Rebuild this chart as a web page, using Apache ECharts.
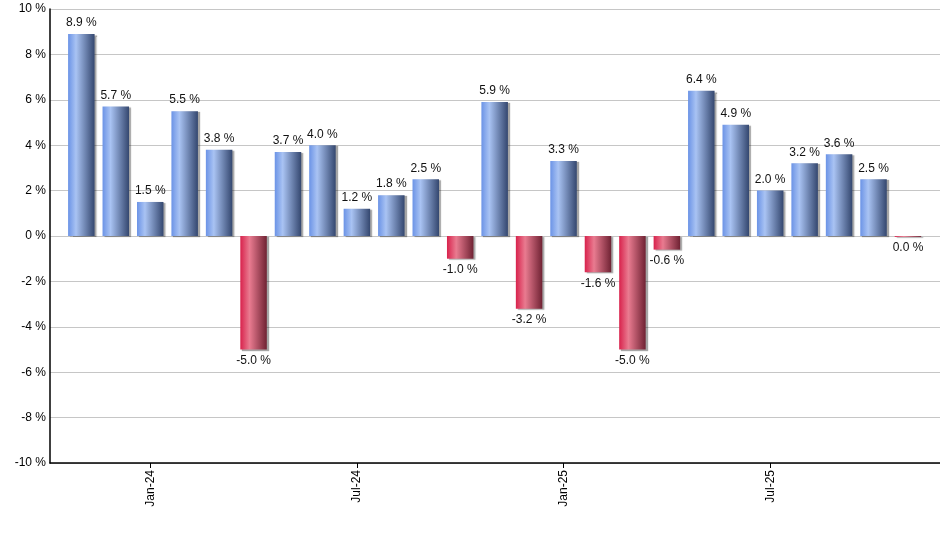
<!DOCTYPE html>
<html>
<head>
<meta charset="utf-8">
<script src="https://cdn.jsdelivr.net/npm/echarts@6/dist/echarts.min.js"></script>
<style>html,body{margin:0;padding:0;background:#fff}#c{width:940px;height:550px}</style>
</head>
<body>
<div id="c"></div>
<script>
var months = ['Nov-23','Dec-23','Jan-24','Feb-24','Mar-24','Apr-24','May-24','Jun-24','Jul-24','Aug-24','Sep-24','Oct-24','Nov-24','Dec-24','Jan-25','Feb-25','Mar-25','Apr-25','May-25','Jun-25','Jul-25','Aug-25','Sep-25','Oct-25','Nov-25'];
var returns = [8.9, 5.7, 1.5, 5.5, 3.8, -5.0, 3.7, 4.0, 1.2, 1.8, 2.5, -1.0, 5.9, -3.2, 3.3, -1.6, -5.0, -0.6, 6.4, 4.9, 2.0, 3.2, 3.6, 2.5, -0.04];
var labelledMonths = ['Jan-24','Jul-24','Jan-25','Jul-25'];

var blueGrad = new echarts.graphic.LinearGradient(0, 0, 1, 0, [
  {offset: 0, color: '#6b93e6'},
  {offset: 0.3, color: '#a9c3f3'},
  {offset: 1, color: '#34476f'}
]);
var redGrad = new echarts.graphic.LinearGradient(0, 0, 1, 0, [
  {offset: 0, color: '#d8224c'},
  {offset: 0.35, color: '#e97b90'},
  {offset: 1, color: '#6f2233'}
]);

var data = returns.map(function (v, i) {
  var neg = v < 0;
  return {
    value: [i, v],
    itemStyle: {color: neg ? redGrad : blueGrad},
    label: {position: neg ? 'bottom' : 'top'}
  };
});
var tickIdx = labelledMonths.map(function (m) { return months.indexOf(m); });

var chart = echarts.init(document.getElementById('c'), null, {renderer: 'canvas'});
chart.setOption({
  animation: false,
  grid: {left: 50, right: 0, top: 9, bottom: 87, containLabel: false},
  xAxis: {
    type: 'value',
    min: -0.91,
    max: 24.93,
    axisLine: {show: true, onZero: false, lineStyle: {color: '#000', width: 1.5}},
    axisTick: {show: true, customValues: tickIdx, length: 5, lineStyle: {color: '#000'}},
    axisLabel: {
      customValues: tickIdx,
      rotate: 90,
      margin: 7,
      color: '#000',
      fontFamily: 'Liberation Sans, Arial, sans-serif',
      fontSize: 12,
      formatter: function (v) { return months[Math.round(v)]; }
    },
    splitLine: {show: false}
  },
  yAxis: {
    type: 'value',
    min: -10,
    max: 10,
    interval: 2,
    axisLine: {show: true, onZero: false, lineStyle: {color: '#000', width: 1.5}},
    axisTick: {show: false},
    axisLabel: {
      margin: 4,
      color: '#000',
      fontFamily: 'Liberation Sans, Arial, sans-serif',
      fontSize: 12,
      formatter: function (v) { return v + ' %'; }
    },
    splitLine: {show: true, lineStyle: {color: '#c6c6c6', width: 1}}
  },
  series: [{
    type: 'bar',
    barWidth: 26.5,
    data: data,
    itemStyle: {
      shadowColor: 'rgba(0,0,0,0.35)',
      shadowOffsetX: 2,
      shadowOffsetY: 1,
      shadowBlur: 1
    },
    label: {
      show: true,
      distance: 5,
      color: '#111',
      fontFamily: 'Liberation Sans, Arial, sans-serif',
      fontSize: 12,
      formatter: function (p) { return p.value[1].toFixed(1).replace('-0.0', '0.0') + ' %'; }
    }
  }]
});
</script>
</body>
</html>
